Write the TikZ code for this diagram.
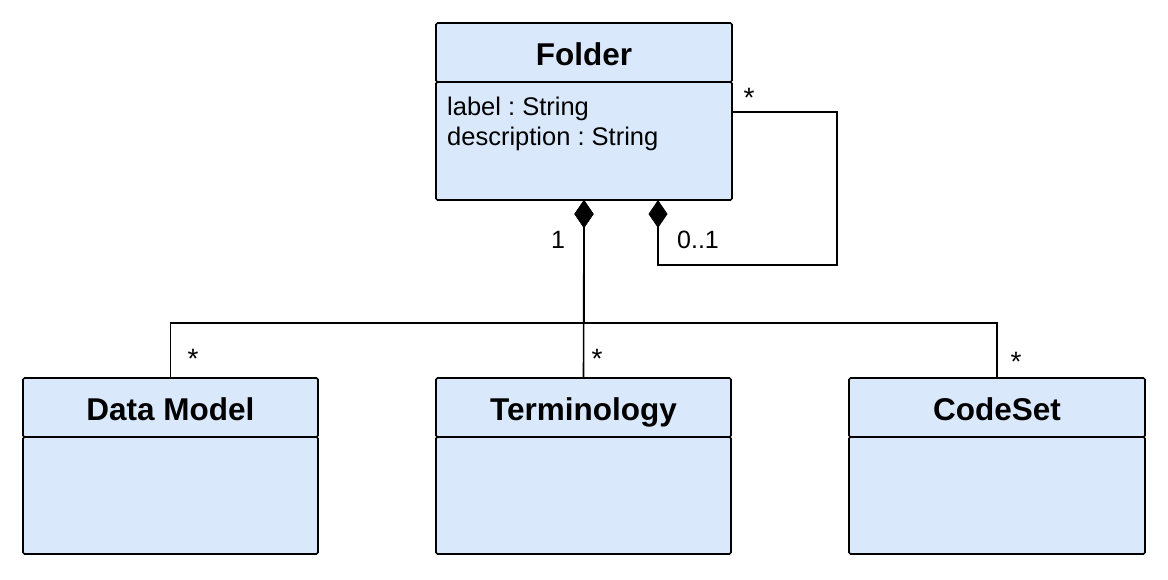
\documentclass[tikz,border=0pt]{standalone}
\usepackage{fontspec}
\setmainfont{Liberation Sans}
\usetikzlibrary{arrows.meta}
\definecolor{classfill}{HTML}{DAE8FC}
\frenchspacing
\tikzset{
  classbox/.style={draw=black, fill=classfill, line width=1.6pt, rounded corners=1.5pt, inner sep=0pt, outer sep=0pt, anchor=north west},
  classhead/.style={classbox, minimum height=59pt, text height=25pt, text depth=0pt, font=\fontsize{31.5}{32}\selectfont\bfseries},
  attr/.style={anchor=base west, inner sep=0pt, font=\fontsize{25.5}{30}\selectfont},
  mult/.style={inner sep=0pt, font=\fontsize{25}{30}\selectfont},
  star/.style={inner sep=0pt, font=\fontsize{28}{30}\selectfont},
  compo/.style={line width=1.6pt, {Diamond[length=28pt,width=19pt]}-},
  conn/.style={line width=1.6pt}
}
\begin{document}
\frenchspacing
\begin{tikzpicture}[x=1pt,y=-1pt]
\useasboundingbox (0,0) rectangle (1168,579);
% Folder
\node[classhead, minimum width=296pt] (folderT) at (436,23) {Folder};
\node[classbox, minimum width=296pt, minimum height=118pt] (folderB) at (436,82) {};
\node[attr] (folderA1) at (447,115) {label : String};
\node[attr] (folderA2) at (447,145) {description : String};
% Data Model
\node[classhead, minimum width=295pt] (dmT) at (23,378) {Data Model};
\node[classbox, minimum width=295pt, minimum height=117pt] (dmB) at (23,437) {};
% Terminology
\node[classhead, minimum width=295pt] (termT) at (436,378) {Terminology};
\node[classbox, minimum width=295pt, minimum height=117pt] (termB) at (436,437) {};
% CodeSet
\node[classhead, minimum width=296pt] (csT) at (849,378) {CodeSet};
\node[classbox, minimum width=296pt, minimum height=117pt] (csB) at (849,437) {};
% connectors
\coordinate (bar) at (583,323);
\draw[compo] (folderB.south) -- (folderB.south |- bar) -| (dmT.north);
\draw[compo] (folderB.south) -- (termT.north);
\draw[compo] (folderB.south) -- (folderB.south |- bar) -| (csT.north);
% self loop
\coordinate (lb) at (837,265);
\coordinate (lt) at (837,112);
\draw[compo] ([xshift=74pt]folderB.south) |- (lb) -- (lt) -- (folderB.east |- lt);
% multiplicities
\node[mult] (m1) at (558,240) {1};
\node[mult] (m01) at (698,240) {0..1};
\node[star] (mself) at (749,98) {*};
\node[star] (mdm) at (193,359) {*};
\node[star] (mterm) at (597,359) {*};
\node[star] (mcs) at (1016,362) {*};
\end{tikzpicture}
\end{document}
